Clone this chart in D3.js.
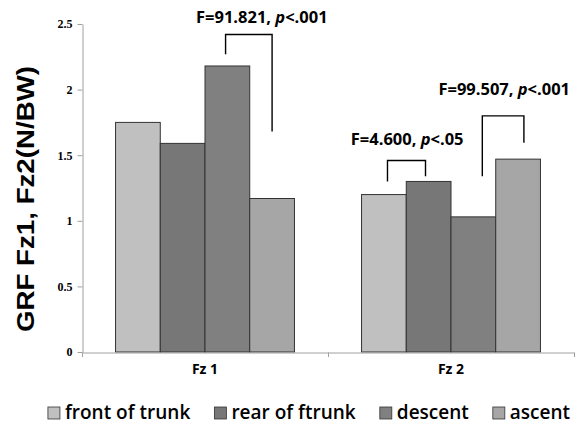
<!DOCTYPE html>
<html>
<head>
<meta charset="utf-8">
<script src="https://cdn.jsdelivr.net/npm/d3@7"></script>
<style>
  body { margin: 0; background: #fff; }
  svg { display: block; }
</style>
</head>
<body>
<svg width="582" height="429"></svg>
<script>
const categories = ["Fz 1", "Fz 2"];
const series = ["front of trunk", "rear of ftrunk", "descent", "ascent"];
const colors = ["#c0c0c0", "#777777", "#808080", "#a6a6a6"];
// values[category][series]
const values = [
    [1.75, 1.59, 2.18, 1.17],
    [1.20, 1.30, 1.03, 1.47]
];
const yTicks = [0, 0.5, 1, 1.5, 2, 2.5];

// significance brackets: leg positions are in bar units inside the group (0 = left edge of first bar)
const brackets = [
    { cat: "Fz 1", from: 2.46, to: 3.50, top: 2.42, leftEnd: 2.27, rightEnd: 1.68, textAt: 3.27, textY: 2.51, stat: "F=91.821, ", p: "p", rest: "<.001" },
    { cat: "Fz 2", from: 0.58, to: 1.43, top: 1.46, leftEnd: 1.30, rightEnd: 1.34, textAt: 1.02, textY: 1.58, stat: "F=4.600, ", p: "p", rest: "<.05" },
    { cat: "Fz 2", from: 2.70, to: 3.63, top: 1.80, leftEnd: 1.34, rightEnd: 1.595, textAt: 3.19, textY: 1.96, stat: "F=99.507, ", p: "p", rest: "<.001" }
];

const svg = d3.select("svg");

const x0 = d3.scaleBand().domain(categories).range([82, 574]);
const x1 = d3.scaleBand().domain(series).range([0, x0.bandwidth()]).paddingOuter(0.75);
const y = d3.scaleLinear().domain([0, 2.5]).range([352, 24]);
const barUnit = d3.scaleLinear().domain([0, 4])
    .range([x1(series[0]), x1(series[3]) + x1.bandwidth()]);

// y axis
const yAxis = svg.append("g")
    .attr("transform", "translate(82.5,0)")
    .call(d3.axisLeft(y).tickValues(yTicks).tickSize(5).tickSizeOuter(0).tickPadding(5).tickFormat(d3.format("")));
yAxis.select(".domain").attr("stroke", "#a0a0a0");
yAxis.selectAll(".tick line").attr("stroke", "#a0a0a0");
yAxis.selectAll(".tick text")
    .attr("font-family", "Liberation Serif, serif")
    .attr("font-weight", "bold")
    .attr("font-size", 12)
    .attr("fill", "#000");

// bars
const groups = svg.append("g")
    .selectAll("g")
    .data(categories)
    .enter()
    .append("g")
    .attr("transform", d => `translate(${x0(d)},0)`);

groups.selectAll("rect")
    .data((d, i) => values[i].map((v, j) => ({ s: series[j], v: v, c: colors[j] })))
    .enter()
    .append("rect")
    .attr("x", d => x1(d.s))
    .attr("y", d => y(d.v))
    .attr("width", x1.bandwidth())
    .attr("height", d => y(0) - y(d.v))
    .attr("fill", d => d.c)
    .attr("stroke", "#333")
    .attr("stroke-width", 1);

// x axis
const xAxis = svg.append("g")
    .attr("transform", "translate(0,352.5)")
    .call(d3.axisBottom(x0).tickSize(0).tickPadding(12));
xAxis.select(".domain").attr("stroke", "#a0a0a0");
xAxis.selectAll(".tick text")
    .attr("font-family", "Open Sans, sans-serif")
    .attr("font-weight", "bold")
    .attr("font-size", 14)
    .attr("fill", "#000");

const boundaries = categories.map(c => x0(c)).concat([x0.range()[1]]);
svg.append("g")
    .selectAll("line")
    .data(boundaries)
    .enter()
    .append("line")
    .attr("x1", d => d + 0.5)
    .attr("x2", d => d + 0.5)
    .attr("y1", 352.5)
    .attr("y2", 357)
    .attr("stroke", "#a0a0a0");

// brackets
const br = svg.append("g");
brackets.forEach(b => {
    const xa = x0(b.cat) + barUnit(b.from);
    const xb = x0(b.cat) + barUnit(b.to);
    br.append("path")
        .attr("d", `M${xa},${y(b.leftEnd)}V${y(b.top)}H${xb}V${y(b.rightEnd)}`)
        .attr("fill", "none")
        .attr("stroke", "#000")
        .attr("stroke-width", 1.4);
    const t = br.append("text")
        .attr("x", x0(b.cat) + barUnit(b.textAt))
        .attr("y", y(b.textY))
        .attr("text-anchor", "middle")
        .attr("font-family", "Open Sans, sans-serif")
        .attr("font-weight", "bold")
        .attr("font-size", 16.5)
        .attr("fill", "#000");
    t.append("tspan").text(b.stat);
    t.append("tspan").attr("font-style", "italic").text(b.p);
    t.append("tspan").text(b.rest);
});

// y label
svg.append("text")
    .attr("transform", "translate(33.5,199) rotate(-90)")
    .attr("text-anchor", "middle")
    .attr("font-family", "Liberation Sans, Arial, sans-serif")
    .attr("font-weight", "bold")
    .attr("font-size", 23)
    .attr("textLength", 266)
    .attr("lengthAdjust", "spacingAndGlyphs")
    .attr("fill", "#000")
    .text("GRF Fz1, Fz2(N/BW)");

// legend
const legend = svg.append("g");
const items = legend.selectAll("g")
    .data(series)
    .enter()
    .append("g");
items.append("rect")
    .attr("width", 12)
    .attr("height", 12)
    .attr("y", 407)
    .attr("fill", (d, i) => colors[i])
    .attr("stroke", "#333")
    .attr("stroke-width", 0.8);
items.append("text")
    .attr("x", 17)
    .attr("y", 419)
    .attr("font-family", "Open Sans, sans-serif")
    .attr("font-weight", 600)
    .attr("font-size", 19)
    .attr("fill", "#000")
    .text(d => d);

let cx = 0;
const gap = 24;
const widths = items.nodes().map(n => n.getBBox().width);
const total = d3.sum(widths) + gap * (widths.length - 1);
cx = 309 - total / 2;
items.attr("transform", (d, i) => {
    const tx = cx;
    cx += widths[i] + gap;
    return `translate(${tx},0)`;
});
</script>
</body>
</html>
